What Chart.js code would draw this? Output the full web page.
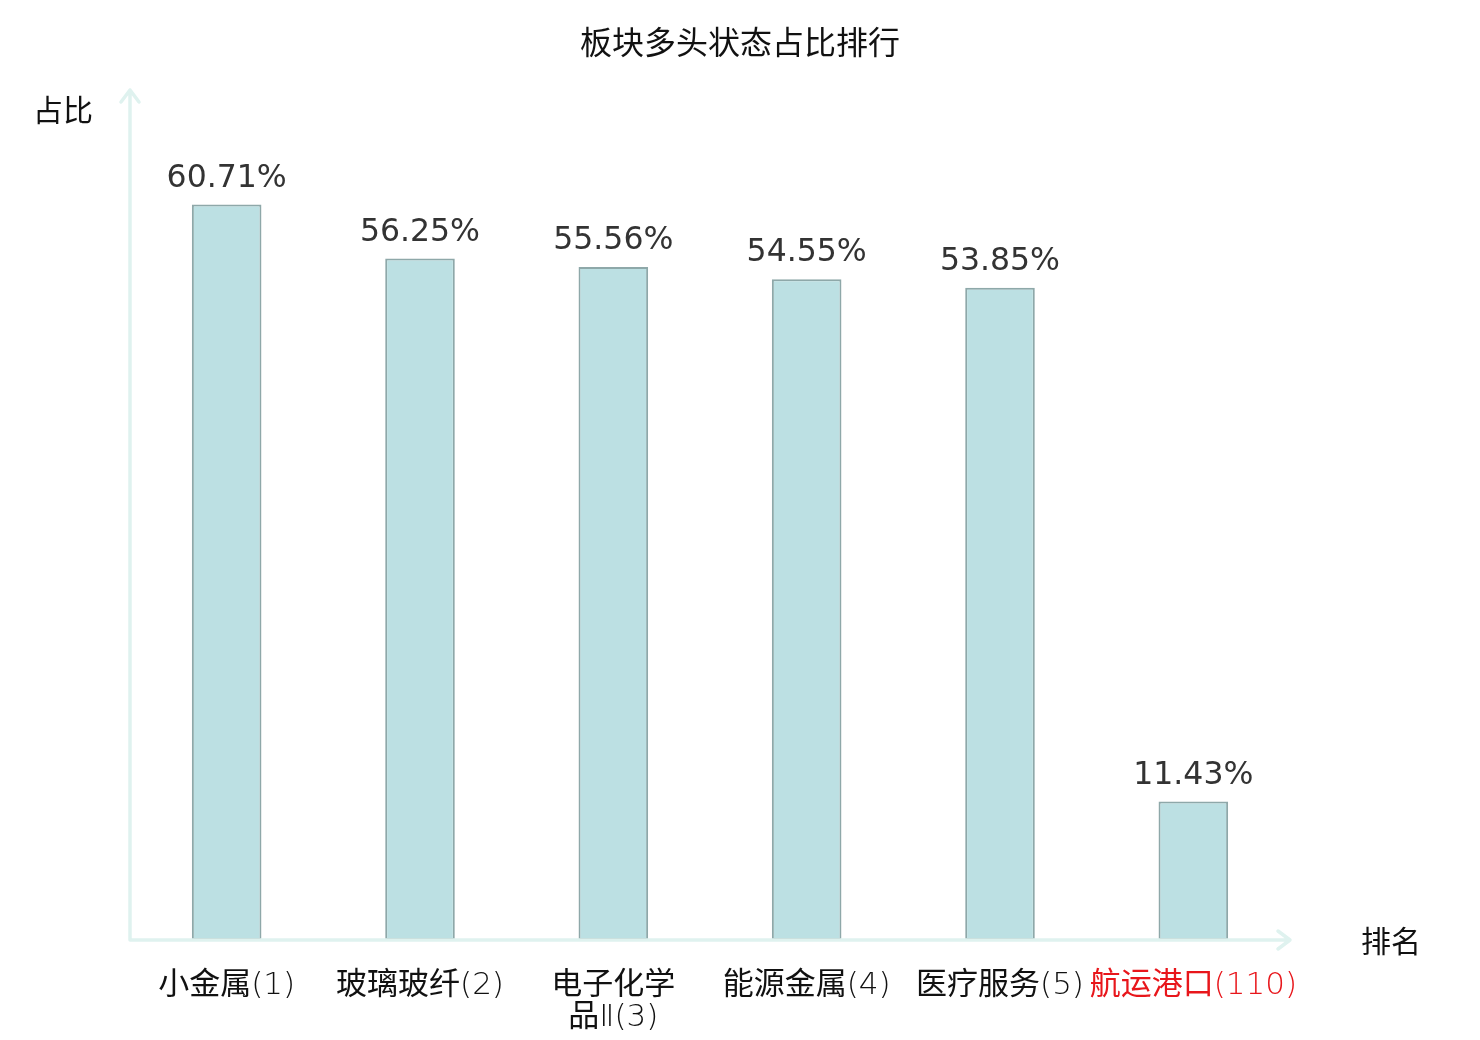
<!DOCTYPE html>
<html>
<head>
<meta charset="utf-8">
<script src="https://cdn.jsdelivr.net/npm/chart.js@4.4.1/dist/chart.umd.min.js"></script>
<style>
  html, body { margin: 0; padding: 0; background: #fff; }
  #wrap { width: 1480px; height: 1040px; }
</style>
</head>
<body>
<div id="wrap"><canvas id="c" width="1480" height="1040"></canvas></div>
<script>
// 板块名称（含排名）
var sectors = [
  ["小金属(1)"],
  ["玻璃玻纤(2)"],
  ["电子化学", "品Ⅱ(3)"],
  ["能源金属(4)"],
  ["医疗服务(5)"],
  ["航运港口(110)"]
];
// 多头状态占比 (%)
var ratios = [60.71, 56.25, 55.56, 54.55, 53.85, 11.43];
var highlightIndex = 5; // 红色标出的板块

var cjkFont = '"Noto Sans CJK SC", "Noto Sans", sans-serif';
var axisColor = "#dff2ef";

// 标题、坐标轴箭头、轴标题和数值标签
var decorPlugin = {
  id: "decor",
  afterDraw: function (chart) {
    var ctx = chart.ctx;
    var area = chart.chartArea;
    ctx.save();

    // 标题
    ctx.fillStyle = "#111";
    ctx.font = "32px " + cjkFont;
    ctx.textAlign = "center";
    ctx.textBaseline = "middle";
    ctx.fillText("板块多头状态占比排行", 740, 42);

    // 坐标轴
    ctx.strokeStyle = axisColor;
    ctx.lineWidth = 3.5;
    ctx.lineCap = "round";
    ctx.lineJoin = "round";
    ctx.beginPath();
    ctx.moveTo(area.left, area.bottom);
    ctx.lineTo(area.left, area.top - 2);
    ctx.moveTo(area.left - 9, area.top + 10);
    ctx.lineTo(area.left, area.top - 2);
    ctx.lineTo(area.left + 9, area.top + 10);
    ctx.moveTo(area.left, area.bottom);
    ctx.lineTo(area.right, area.bottom);
    ctx.moveTo(area.right - 12, area.bottom - 9);
    ctx.lineTo(area.right, area.bottom);
    ctx.lineTo(area.right - 12, area.bottom + 9);
    ctx.stroke();

    // 轴标题
    ctx.fillStyle = "#111";
    ctx.font = "30px " + cjkFont;
    ctx.fillText("占比", 63, 110);
    ctx.fillText("排名", 1391, 941);

    // 数值标签
    var meta = chart.getDatasetMeta(0);
    ctx.fillStyle = "#333";
    ctx.font = '31.5px "DejaVu Sans", sans-serif';
    ctx.textBaseline = "alphabetic";
    meta.data.forEach(function (bar, i) {
      ctx.fillText(ratios[i].toFixed(2) + "%", bar.x, bar.y - 18);
    });
    ctx.restore();
  }
};

new Chart(document.getElementById("c"), {
  type: "bar",
  data: {
    labels: sectors,
    datasets: [
      {
        data: ratios,
        backgroundColor: "#bce0e3",
        borderColor: "#8ea8a9",
        borderWidth: 2,
        borderSkipped: false,
        categoryPercentage: 1,
        barPercentage: 0.36
      }
    ]
  },
  options: {
    responsive: false,
    animation: false,
    layout: { padding: { left: 130, right: 190, top: 92, bottom: 0 } },
    plugins: {
      legend: { display: false },
      tooltip: { enabled: false }
    },
    scales: {
      x: {
        grid: { display: false },
        border: { display: false },
        ticks: {
          maxRotation: 0,
          autoSkip: false,
          padding: 22,
          font: { family: '"DejaVu Sans Light", "Noto Sans CJK SC", sans-serif', size: 31, lineHeight: 1.04 },
          color: function (c) {
            return c.index === highlightIndex ? "#e8161b" : "#111";
          }
        },
        afterFit: function (scale) { scale.height = 100; }
      },
      y: {
        display: false,
        min: 0,
        max: 70
      }
    }
  },
  plugins: [decorPlugin]
});
</script>
</body>
</html>
